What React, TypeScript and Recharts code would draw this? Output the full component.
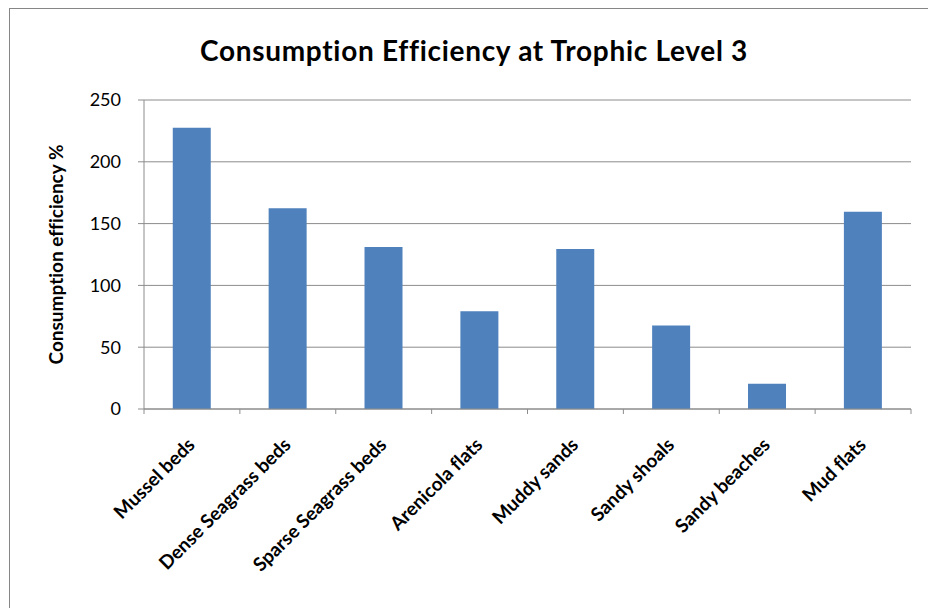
import { BarChart, Bar, XAxis, YAxis, CartesianGrid } from 'recharts'

const categories = [
  'Mussel beds',
  'Dense Seagrass beds',
  'Sparse Seagrass beds',
  'Arenicola flats',
  'Muddy sands',
  'Sandy shoals',
  'Sandy beaches',
  'Mud flats',
]
const efficiency = [227.5, 162.5, 131, 79, 129.5, 67.5, 20.5, 159.5]
const yTicks = [0, 50, 100, 150, 200, 250]

const data = categories.map((name, i) => ({ name, value: efficiency[i] }))

const CHART_W = 928
const CHART_H = 608
const MARGIN = { top: 100, right: 17, left: 0, bottom: 9 }
const Y_AXIS_W = 144
const BAND = (CHART_W - MARGIN.left - MARGIN.right - Y_AXIS_W) / categories.length
const FONT = 'Lato, "Open Sans", sans-serif'
const AXIS_GREY = '#8c8c8c'

// Excel puts category ticks between the bars, with labels slanted at 45 degrees
const CategoryTick = ({ x, y, payload, index }: any) => {
  const left = x - BAND / 2
  const tx = x + 4
  const ty = y + 37
  return (
    <g>
      <line x1={left} y1={y} x2={left} y2={y + 5} stroke={AXIS_GREY} />
      {index === categories.length - 1 && (
        <line x1={x + BAND / 2} y1={y} x2={x + BAND / 2} y2={y + 5} stroke={AXIS_GREY} />
      )}
      <text
        x={tx}
        y={ty}
        transform={`rotate(-45, ${tx}, ${ty})`}
        textAnchor="end"
        fontFamily={FONT}
        fontWeight={700}
        fontSize={19}
        fill="#000"
        style={{ fontVariantLigatures: 'none' }}
      >
        {payload.value}
      </text>
    </g>
  )
}

export default function App() {
  return (
    <div
      style={{
        position: 'fixed',
        left: 0,
        top: 0,
        width: CHART_W,
        height: CHART_H,
        overflow: 'hidden',
        background: '#fff',
      }}
    >
      {/* chart frame, cut off on the right and bottom */}
      <div
        style={{
          position: 'absolute',
          left: 9,
          top: 8,
          width: CHART_W + 20,
          height: CHART_H + 20,
          borderLeft: '1px solid #868686',
          borderTop: '1px solid #868686',
        }}
      />
      <div
        style={{
          position: 'absolute',
          left: 0,
          top: 33,
          width: 948,
          textAlign: 'center',
          fontFamily: FONT,
          fontWeight: 700,
          fontSize: 28,
          letterSpacing: 0.7,
          lineHeight: '34px',
          color: '#000',
          fontVariantLigatures: 'none',
        }}
      >
        Consumption Efficiency at Trophic Level 3
      </div>
      <div style={{ position: 'absolute', left: 0, top: 0 }}>
        <BarChart width={CHART_W} height={CHART_H} data={data} margin={MARGIN} barCategoryGap="30%">
          <CartesianGrid vertical={false} stroke={AXIS_GREY} />
          <XAxis
            dataKey="name"
            interval={0}
            height={CHART_H - MARGIN.top - MARGIN.bottom - 309}
            axisLine={{ stroke: AXIS_GREY }}
            tickLine={false}
            tickSize={0}
            tickMargin={0}
            tick={<CategoryTick />}
          />
          <YAxis
            width={Y_AXIS_W}
            domain={[0, 250]}
            ticks={yTicks}
            interval={0}
            axisLine={{ stroke: AXIS_GREY }}
            tickLine={{ stroke: AXIS_GREY }}
            tickSize={6}
            tickMargin={17}
            tick={{ fill: '#000', fontSize: 18, fontFamily: FONT }}
            label={{
              value: 'Consumption efficiency %',
              angle: -90,
              position: 'insideLeft',
              offset: 56,
              style: {
                textAnchor: 'middle',
                fontFamily: FONT,
                fontWeight: 700,
                fontSize: 19,
                fill: '#000',
                fontVariantLigatures: 'none',
              },
            }}
          />
          <Bar dataKey="value" fill="#4f81bd" isAnimationActive={false} />
        </BarChart>
      </div>
    </div>
  )
}
